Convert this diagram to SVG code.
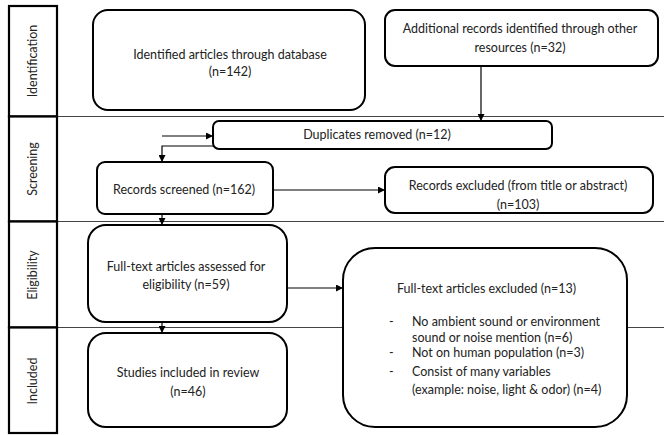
<svg xmlns="http://www.w3.org/2000/svg" width="664" height="435" viewBox="0 0 664 435">
<defs>
<marker id="ah" viewBox="0 0 10 10" refX="10" refY="5" markerWidth="7" markerHeight="7" markerUnits="userSpaceOnUse" orient="auto">
<path d="M0,0 L10,5 L0,10 z" fill="#000"/>
</marker>
<style>
.box{fill:#fff;stroke:#000;stroke-width:2}
.side{fill:#fff;stroke:#000;stroke-width:2.2}
.sep{stroke:#444;stroke-width:1;fill:none}
.con{stroke:#000;stroke-width:1.2;fill:none}
text{font-family:Lato,"Liberation Sans",Arial,sans-serif;font-size:12.5px;fill:#222}
.c{text-anchor:middle}
</style>
</defs>
<rect width="664" height="435" fill="#fff"/>
<g id="separators">
<line class="sep" x1="57" y1="116.5" x2="664" y2="116.5"/>
<line class="sep" x1="57" y1="221.5" x2="664" y2="221.5"/>
<line class="sep" x1="57" y1="327.5" x2="664" y2="327.5"/>
</g>
<g id="stage-identification">
<rect class="side" x="9" y="6" width="48" height="110.5"/>
<text class="c" transform="translate(37,61) rotate(-90)">Identification</text>
</g>
<g id="stage-screening">
<rect class="side" x="9" y="116.5" width="48" height="105"/>
<text class="c" transform="translate(37,169) rotate(-90)">Screening</text>
</g>
<g id="stage-eligibility">
<rect class="side" x="9" y="221.5" width="48" height="106"/>
<text class="c" transform="translate(37,275) rotate(-90)">Eligibility</text>
</g>
<g id="stage-included">
<rect class="side" x="9" y="327.5" width="48" height="105.5"/>
<text class="c" transform="translate(37,381) rotate(-90)">Included</text>
</g>
<g id="connectors">
<line class="con" x1="481" y1="66" x2="481" y2="121" marker-end="url(#ah)"/>
<line class="con" x1="162" y1="136" x2="213" y2="136" marker-end="url(#ah)"/>
<polyline class="con" points="213,146 162,146 162,162" marker-end="url(#ah)"/>
<line class="con" x1="273" y1="190" x2="385" y2="190" marker-end="url(#ah)"/>
<line class="con" x1="162" y1="214" x2="162" y2="225" marker-end="url(#ah)"/>
<line class="con" x1="287" y1="288" x2="343" y2="288" marker-end="url(#ah)"/>
<line class="con" x1="162" y1="322" x2="162" y2="333" marker-end="url(#ah)"/>
</g>
<g id="n-database">
<rect class="box" x="93" y="10" width="272" height="100" rx="15"/>
<text class="c" x="230" y="59">Identified articles through database</text>
<text class="c" x="230" y="76">(n=142)</text>
</g>
<g id="n-other">
<rect class="box" x="385" y="10" width="273" height="56" rx="10"/>
<text class="c" x="520" y="33">Additional records identified through other</text>
<text class="c" x="520" y="52">resources (n=32)</text>
</g>
<g id="n-duplicates">
<rect class="box" x="213" y="121" width="339" height="28" rx="6"/>
<text class="c" x="377" y="139">Duplicates removed (n=12)</text>
</g>
<g id="n-screened">
<rect class="box" x="97" y="162" width="176" height="52" rx="8"/>
<text class="c" x="184" y="194">Records screened (n=162)</text>
</g>
<g id="n-excluded">
<rect class="box" x="385" y="167" width="268" height="46" rx="10"/>
<text class="c" x="518" y="190">Records excluded (from title or abstract)</text>
<text class="c" x="518" y="209">(n=103)</text>
</g>
<g id="n-fulltext">
<rect class="box" x="88" y="225" width="199" height="97" rx="18"/>
<text class="c" x="186" y="271">Full-text articles assessed for</text>
<text class="c" x="186" y="289">eligibility (n=59)</text>
</g>
<g id="n-ftexcluded">
<rect class="box" x="343" y="248" width="284" height="179" rx="32"/>
<text x="397" y="293">Full-text articles excluded (n=13)</text>
<text x="389" y="326">-</text>
<text x="412" y="326">No ambient sound or environment</text>
<text x="412" y="342">sound or noise mention (n=6)</text>
<text x="389" y="357">-</text>
<text x="412" y="357">Not on human population (n=3)</text>
<text x="389" y="376">-</text>
<text x="412" y="376">Consist of many variables</text>
<text x="412" y="394">(example: noise, light &amp; odor) (n=4)</text>
</g>
<g id="n-included">
<rect class="box" x="88" y="333" width="199" height="94" rx="18"/>
<text class="c" x="188" y="377">Studies included in review</text>
<text class="c" x="188" y="396">(n=46)</text>
</g>
</svg>
